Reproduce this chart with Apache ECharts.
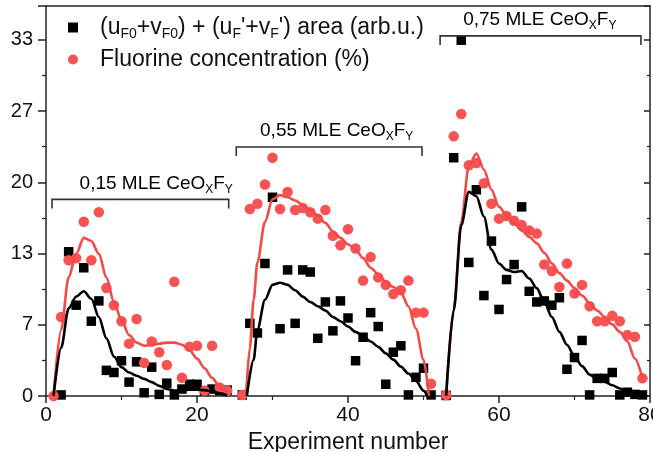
<!DOCTYPE html>
<html>
<head>
<meta charset="utf-8">
<script src="https://cdn.jsdelivr.net/npm/echarts@6/dist/echarts.min.js"></script>
<style>
  html, body { margin: 0; padding: 0; background: #fff; }
  #chart { width: 653px; height: 452px; }
</style>
</head>
<body>
<div id="chart"></div>
<script>
// Experiment numbers for each deposition series
const expGroup1 = [1,2,3,4,5,6,7,8,9,10,11,12,13,14,15,16,17,18,19,20,21,22,23,24];
const expGroup2 = [26,27,28,29,30,31,32,33,34,35,36,37,38,39,40,41,42,43,44,45,46,47,48,49,50,51];
const expGroup3 = [53,54,55,56,57,58,59,60,61,62,63,64,65,66,67,68,69,70,71,72,73,74,75,76,77,78,79];

// (uF0+vF0) + (uF'+vF') peak area, arb. units
const areaExp = [2,3,4,5,6,7,8,9,10,11,12,13,14,15,16,17,18,19,20,21,22,23,24]
  .concat(expGroup2, expGroup3);
const areaVal = [
  0.1,13.5,8.5,12.0,7.0,8.9,2.4,2.2,3.3,1.3,3.2,0.3,2.7,0.15,1.2,0.1,0.65,1.1,1.1,0.5,0.65,0.5,0.55,
  0.1,6.8,5.9,12.4,18.6,6.3,11.8,6.8,11.8,11.6,5.4,8.8,6.1,8.9,7.3,3.3,5.5,7.8,6.5,1.1,4.1,4.7,0.1,1.75,2.6,0.1,
  0.05,22.3,33.3,12.5,19.3,9.4,14.5,8.1,10.9,12.3,17.7,9.8,8.8,8.9,8.5,9.2,2.5,3.6,5.2,0.1,1.65,1.65,2.2,0.1,0.35,0.15,0.1
];

// Fluorine concentration, %
const fluorExp = expGroup1.concat(expGroup2, expGroup3);
const fluorVal = [
  0,7.4,12.7,12.9,16.3,12.7,17.2,10.1,8.5,7.0,4.9,7.2,3.1,5.1,4.1,2.9,10.7,1.7,4.6,4.7,0.5,4.7,0.8,0.5,
  0.1,17.5,18.0,19.8,22.3,17.5,19.1,17.4,17.6,17.2,16.6,17.4,15.0,14.1,15.6,13.8,10.8,13.0,11.1,10.4,9.55,9.9,10.8,7.8,7.8,1.15,
  0.1,24.3,26.4,21.6,21.8,19.9,18.0,16.6,16.85,16.4,16.0,15.5,15.2,12.3,11.7,10.2,12.4,9.6,10.4,8.4,7.0,7.0,7.5,7.0,5.7,5.55,1.65
];

// Smoothed trend curves (experiment number, value)
const areaTrendX = [
  [1,2,3,4,5,6,7,8,9,10,11,12,13,14,15,16,17,18,19,20,21,22,23,24],
  [26.6,27.5,28,29,30,31,32,33,34,35,36,37,38,39,40,41,42,43,44,45,46,47,48,49,50,50.5],
  [53,54,55,56,57,58,59,60,61,62,63,64,65,66,67,68,69,70,71,72,73,74,75,76,77,78,79]
];
const areaTrendY = [
  [0,4.5,8.2,9.3,9.8,9.1,7.4,5.4,3.7,2.7,2.2,1.9,1.6,1.3,0.95,0.65,0.5,0.55,0.6,0.6,0.55,0.45,0.25,0.05],
  [0,3.4,6.2,9.0,10.4,10.6,10.4,9.9,9.3,8.8,8.4,8.0,7.4,7.0,6.5,6.0,5.6,5.1,4.6,4.0,3.4,2.75,2.1,1.4,0.5,0],
  [0,8,16,19.1,18.7,16.8,13.7,12.4,11.8,11.6,11.7,11.0,10.1,8.8,7.4,6.0,4.8,3.7,2.8,2.0,1.6,1.35,1.0,0.7,0.4,0.2,0.05]
];
const fluorTrendX = [
  [1,2,3,4,5,6,7,8,9,10,11,12,13,14,15,16,17,18,19,20,21,22,23,24],
  [26.5,27,27.5,28,29,30,31,32,33,34,35,36,37,38,39,40,41,42,43,44,45,46,47,48,49,50,50.7],
  [53,54,55,56,57,58,59,60,61,62,63,64,65,66,67,68,69,70,71,72,73,74,75,76,77,78,79]
];
const fluorTrendY = [
  [0,6.2,11.1,13.3,14.8,14.5,13.3,11.1,8.8,7.1,5.7,5.0,4.7,4.8,4.9,5.0,5.0,4.8,4.3,3.5,2.6,1.7,0.9,0.3],
  [0,4.5,9.0,12.5,16.3,18.4,18.8,18.6,18.3,17.9,17.4,16.9,16.2,15.4,14.8,14.2,13.7,12.9,12.0,11.4,10.7,10.2,9.7,8.4,6.3,3.4,0],
  [0,8.1,16.3,21.5,22.7,21.2,19.3,17.7,16.95,16.2,15.5,14.9,14.3,13.4,12.4,11.5,10.8,10.1,9.4,8.7,8.0,7.4,6.7,6.0,5.1,3.5,1.65]
];

// Deposition series labels
const groupLabels = ['0,15', '0,55', '0,75'];

// Tick labels of the value axis (every 20/3 units)
const yTickStep = 20 / 3;

const FONT = "'Liberation Sans', Arial, sans-serif";
const RED = '#f85252';
const RED_LINE = '#f54848';

const zip = (xs, ys) => xs.map((x, i) => [x, ys[i]]);

// Bracket placement for each deposition series (experiment range and height)
const bracketLayout = [
  { from: 0.8, to: 24.2, level: 18.4, textX: 14.6 },
  { from: 25.2, to: 49.8, level: 23.3, textX: 38.5 },
  { from: 52.2, to: 78.8, level: 33.7, textX: 65.4 }
];

const subRich = {
  t: { fontSize: 19, fontFamily: FONT, color: '#111', lineHeight: 22 },
  s: { fontSize: 12, fontFamily: FONT, color: '#111', lineHeight: 12, padding: [12, 0, 0, 0] }
};

const chart = echarts.init(document.getElementById('chart'), null, { renderer: 'canvas' });

const lineSeries = [];
for (let g = 0; g < 3; g++) {
  lineSeries.push({
    type: 'line', name: 'fluorTrend' + g, data: zip(fluorTrendX[g], fluorTrendY[g]),
    showSymbol: false, smooth: 0.3, smoothMonotone: 'x',
    lineStyle: { color: RED_LINE, width: 2.6 }, z: 4, silent: true
  });
  lineSeries.push({
    type: 'line', name: 'areaTrend' + g, data: zip(areaTrendX[g], areaTrendY[g]),
    showSymbol: false, smooth: 0.3, smoothMonotone: 'x',
    lineStyle: { color: '#000', width: 2.6 }, z: 4, silent: true
  });
}

const AREA_NAME = 'area';
const FLUOR_NAME = 'fluor';

chart.setOption({
  animation: false,
  backgroundColor: '#fff',
  grid: { left: 46, right: 3, top: 6, bottom: 56, outerBoundsMode: 'none', containLabel: false },
  legend: {
    left: 63, top: 9, orient: 'vertical', itemGap: 7,
    itemWidth: 10, itemHeight: 10,
    data: [
      { name: AREA_NAME, icon: 'rect', itemStyle: { color: '#000' } },
      { name: FLUOR_NAME, icon: 'circle', itemStyle: { color: RED } }
    ],
    formatter: function (name) {
      if (name === AREA_NAME) {
        return "{t|(u}{s|F0}{t|+v}{s|F0}{t|) + (u}{s|F}{t|'+v}{s|F}{t|') area (arb.u.)}";
      }
      return '{t|Fluorine concentration (%)}';
    },
    textStyle: {
      padding: [0, 0, 0, 17],
      rich: {
        t: { fontSize: 23, fontFamily: FONT, color: '#111', lineHeight: 24 },
        s: { fontSize: 14, fontFamily: FONT, color: '#111', lineHeight: 14, padding: [13, 0, 0, 0] }
      }
    }
  },
  xAxis: [{
    type: 'value', min: 0, max: 80, interval: 20,
    name: 'Experiment number', nameLocation: 'middle', nameGap: 30,
    nameTextStyle: { fontSize: 23, fontFamily: FONT, color: '#111' },
    axisLine: { lineStyle: { color: '#222', width: 1.5 } },
    axisTick: { length: 7, lineStyle: { color: '#222', width: 1.5 } },
    minorTick: { show: true, splitNumber: 2, length: 4, lineStyle: { color: '#222', width: 1.2 } },
    axisLabel: { fontSize: 21, fontFamily: FONT, color: '#111', margin: 9 },
    splitLine: { show: false }
  }, {
    type: 'value', min: 0, max: 80, position: 'top',
    axisLine: { show: true, onZero: false, lineStyle: { color: '#222', width: 1.5 } },
    axisTick: { show: false }, axisLabel: { show: false }, splitLine: { show: false }
  }],
  yAxis: [{
    type: 'value', min: 0, max: 36.5, interval: yTickStep,
    axisLine: { show: true, lineStyle: { color: '#222', width: 1.5 } },
    axisTick: { show: true, length: 8, lineStyle: { color: '#222', width: 1.5 } },
    minorTick: { show: true, splitNumber: 2, length: 4, lineStyle: { color: '#222', width: 1.2 } },
    axisLabel: {
      fontSize: 20, fontFamily: FONT, color: '#111', margin: 13,
      showMaxLabel: false,
      formatter: v => (v > 34 ? '' : String(Math.round(v)))
    },
    splitLine: { show: false }
  }, {
    type: 'value', min: 0, max: 36.5, interval: yTickStep, position: 'right',
    axisLine: { show: true, onZero: false, lineStyle: { color: '#222', width: 1.5 } },
    axisTick: { show: true, inside: true, length: 6, lineStyle: { color: '#222', width: 1.5 } },
    minorTick: { show: true, splitNumber: 2, length: 3, lineStyle: { color: '#222', width: 1.2 } },
    axisLabel: { show: false }, splitLine: { show: false }
  }],
  series: [
    {
      type: 'scatter', name: AREA_NAME, data: zip(areaExp, areaVal),
      symbol: 'rect', symbolSize: 9.5, itemStyle: { color: '#000', opacity: 1 }, z: 3
    },
    {
      type: 'scatter', name: FLUOR_NAME, data: zip(fluorExp, fluorVal),
      symbol: 'circle', symbolSize: 10.5, itemStyle: { color: RED, opacity: 1 }, z: 3
    },
    ...lineSeries,
    {
      type: 'custom', name: 'brackets', silent: true, z: 5,
      data: groupLabels.map((_, i) => i),
      renderItem: function (params, api) {
        const b = bracketLayout[params.dataIndex];
        const p1 = api.coord([b.from, b.level]);
        const p2 = api.coord([b.to, b.level]);
        const pt = api.coord([b.textX, b.level]);
        const drop = 9;
        return {
          type: 'group',
          children: [{
            type: 'polyline',
            shape: { points: [[p1[0], p1[1] + drop], [p1[0], p1[1]], [p2[0], p2[1]], [p2[0], p2[1] + drop]] },
            style: { stroke: '#333', lineWidth: 1.6, fill: null }
          }, {
            type: 'text',
            x: pt[0], y: p1[1] - 5,
            style: {
              text: '{t|' + groupLabels[params.dataIndex] + ' MLE CeO}{s|X}{t|F}{s|Y}',
              rich: subRich,
              align: 'center', verticalAlign: 'bottom'
            }
          }]
        };
      }
    }
  ]
});
</script>
</body>
</html>
